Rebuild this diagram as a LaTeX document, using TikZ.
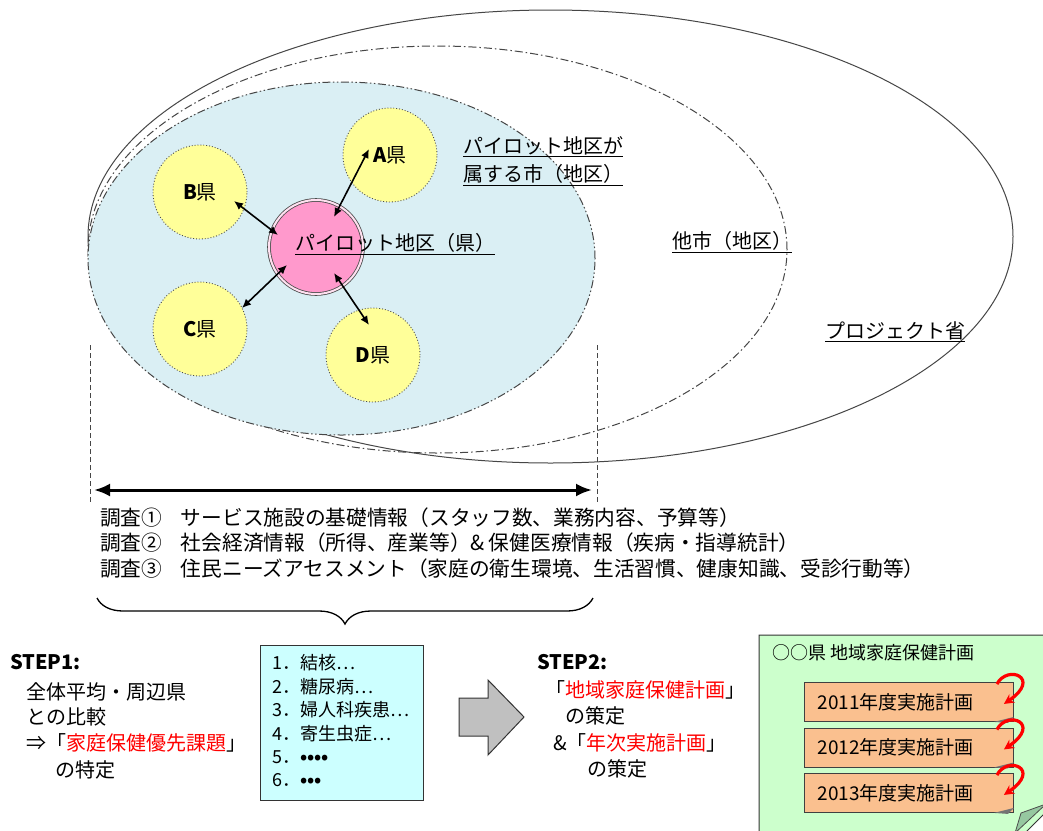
\documentclass[tikz,border=0pt]{standalone}
\usepackage{fontspec}
\setmainfont{Noto Sans CJK JP}
\usetikzlibrary{arrows.meta,decorations.pathreplacing,calc,shapes.geometric}
\definecolor{yelfill}{RGB}{255,255,153}
\definecolor{pinkfill}{RGB}{255,153,204}
\definecolor{bluefill}{RGB}{218,239,244}
\definecolor{listfill}{RGB}{204,255,255}
\definecolor{greenfill}{RGB}{204,255,204}
\definecolor{foldgreen}{RGB}{150,200,160}
\definecolor{orangefill}{RGB}{250,192,143}
\definecolor{arrowgray}{RGB}{192,192,192}
\definecolor{linegray}{RGB}{70,70,70}
\definecolor{redtext}{RGB}{255,0,0}
\newcommand{\myul}[1]{\underline{#1}}
\newcommand{\rtx}[1]{\textcolor{redtext}{#1}}
\begin{document}
\begin{tikzpicture}[x=1pt,y=-1pt,
  lab/.style={font=\fontsize{20}{24}\selectfont, inner sep=0pt, anchor=west},
  survey/.style={font=\fontsize{20.7}{24}\selectfont, inner sep=0pt, anchor=west},
  smalllab/.style={font=\fontsize{18}{22}\selectfont, inner sep=0pt, anchor=west},
  region/.style={ellipse, inner sep=0pt, outer sep=0pt, line width=1pt, draw=linegray},
  county/.style={circle, fill=yelfill, draw=black!70, dotted, line width=0.9pt, minimum size=94pt, inner sep=0pt, font=\fontsize{20}{24}\selectfont},
  biarrow/.style={{Latex[length=9pt,width=8pt]}-{Latex[length=9pt,width=8pt]}, line width=1.6pt},
  yearbox/.style={draw=black!75, line width=0.9pt, fill=orangefill, minimum height=39pt, text width=183pt, inner xsep=13pt, inner ysep=0pt, align=left, anchor=north west, font=\fontsize{19}{22}\selectfont},
  curl/.style={-{Stealth[length=10pt,width=10pt]}, draw=red, line width=3.2pt},
  vdash/.style={dash pattern=on 5pt off 3pt, line width=0.9pt, draw=linegray}
]
\useasboundingbox (0,0) rectangle (1043,830);
\fill[white] (0,0) rectangle (1043,830);

% regions
\node[region] (prov) at (550.5,236.5) [minimum width=925pt, minimum height=453pt] {};
\node[region, dash pattern=on 8pt off 3pt on 1.5pt off 3pt] (city) at (437.5,249.5) [minimum width=699pt, minimum height=407pt] {};
\node[region, fill=bluefill, dash pattern=on 8pt off 2.5pt on 1.5pt off 2.5pt on 1.5pt off 2.5pt] (pcity) at (341.5,258.5) [minimum width=507pt, minimum height=353pt] {};

% counties
\node[county] (A) at (390,155) {\textbf{A}県};
\node[county] (B) at (200,192) {\textbf{B}県};
\node[county] (C) at (200,329) {\textbf{C}県};
\node[county] (D) at (373,355) {\textbf{D}県};
\node[circle, fill=pinkfill, draw=black!70, double=white!70!pinkfill, double distance=2pt, line width=0.8pt, minimum size=94pt, inner sep=0pt] (P) at (316,247) {};
\node[lab] (Plab) at (295,244) {\myul{パイロット地区（県）}};

% arrows between pilot and counties
\coordinate (pa) at (334,217); \coordinate (aa) at (369,149);
\coordinate (pb) at (278,235); \coordinate (bb) at (234,201);
\coordinate (pc) at (287,265); \coordinate (cc) at (242,308);
\coordinate (pd) at (334,273); \coordinate (dd) at (369,325);
\draw[biarrow] (pa) -- (aa);
\draw[biarrow] (pb) -- (bb);
\draw[biarrow] (pc) -- (cc);
\draw[biarrow] (pd) -- (dd);

% region labels
\node[lab] (pcl1) at (463,147) {\myul{パイロット地区が}};
\node[lab] (pcl2) at (463,175) {\myul{属する市（地区）}};
\node[lab] (cityl) at (672,242) {\myul{他市（地区）}};
\node[lab] (provl) at (825,332) {\myul{プロジェクト省}};

% dashed verticals and survey span
\coordinate (vl1) at (90,345); \coordinate (vl2) at (90,502);
\coordinate (vr1) at (597,345); \coordinate (vr2) at (597,502);
\draw[vdash] (vl1) -- (vl2);
\draw[vdash] (vr1) -- (vr2);
\coordinate (h1) at (94,490); \coordinate (h2) at (592,490);
\draw[{Latex[length=16pt,width=13pt]}-{Latex[length=16pt,width=13pt]}, line width=3pt] (h1) -- (h2);

\node[survey] (sv1) at (100,518) {調査①\hspace{0.9em}サービス施設の基礎情報（スタッフ数、業務内容、予算等）};
\node[survey] (sv2) at (100,543) {調査②\hspace{0.9em}社会経済情報（所得、産業等）\&\hspace{0.2em}保健医療情報（疾病・指導統計）};
\node[survey] (sv3) at (100,569) {調査③\hspace{0.9em}住民ニーズアセスメント（家庭の衛生環境、生活習慣、健康知識、受診行動等）};

\coordinate (br1) at (97,598); \coordinate (br2) at (593,598);
\draw[decorate, decoration={brace, mirror, amplitude=26pt}, line width=1.3pt] (br1) -- (br2);

% STEP1
\node[lab] (s1) at (10,662) {\textbf{STEP1:}};
\node[lab] (s1a) at (26,692) {全体平均・周辺県};
\node[lab] (s1b) at (26,717) {との比較};
\node[lab] (s1c) at (26,743) {⇒「\rtx{家庭保健優先課題}」};
\node[lab] (s1d) at (55,770) {の特定};

% priority list
\node[draw=black!80, line width=1pt, fill=listfill, minimum width=163pt, minimum height=155pt, inner sep=0pt] (list) at (341.5,722.5) {};
\node[smalllab] (l1) at (272,663) {1．結核…};
\node[smalllab] (l2) at (272,687) {2．糖尿病…};
\node[smalllab] (l3) at (272,710) {3．婦人科疾患…};
\node[smalllab] (l4) at (272,734) {4．寄生虫症…};
\node[smalllab] (l5) at (272,757) {5．\textbf{••••}};
\node[smalllab] (l6) at (272,780) {6．\textbf{•••}};

% big gray arrow
\draw[fill=arrowgray, draw=black!80, line width=1pt] (459,698) -- (488,698) -- (488,680) -- (524,717) -- (488,755) -- (488,736) -- (459,736) -- cycle;

% STEP2
\node[lab] (s2) at (537,662) {\textbf{STEP2:}};
\node[lab] (s2a) at (545,690) {「\rtx{地域家庭保健計画}」};
\node[lab] (s2b) at (565,716) {の策定};
\node[lab] (s2c) at (553,743) {\&「\rtx{年次実施計画}」};
\node[lab] (s2d) at (587,769) {の策定};

% plan sheet
\draw[fill=greenfill, draw=black!80, line width=1pt] (759,635) -- (1060,635) -- (1060,798) -- (1016,842) -- (759,842) -- cycle;
\draw[fill=foldgreen, draw=black!70, line width=0.8pt] (1021,813) -- (1046,804) -- (1015,833) -- cycle;
\node[smalllab] (plan) at (772,653) {○○県 地域家庭保健計画};

\node[yearbox] (y1) at (804,682) {2011年度実施計画};
\node[yearbox] (y2) at (804,727.5) {2012年度実施計画};
\node[yearbox] (y3) at (804,773) {2013年度実施計画};
\foreach \b in {y1,y2,y3}{
  \fill[black!55] ($(\b.south east)+(-20,0)$) -- ($(\b.south east)+(0,-5)$) -- ($(\b.south east)+(-6,1)$) -- cycle;
  \draw[curl] ($(\b.north east)+(-17,2)$) .. controls ($(\b.north east)+(-6,-18)$) and ($(\b.north east)+(28,-4)$) .. ($(\b.east)+(-10,2)$);
}
\end{tikzpicture}
\end{document}
